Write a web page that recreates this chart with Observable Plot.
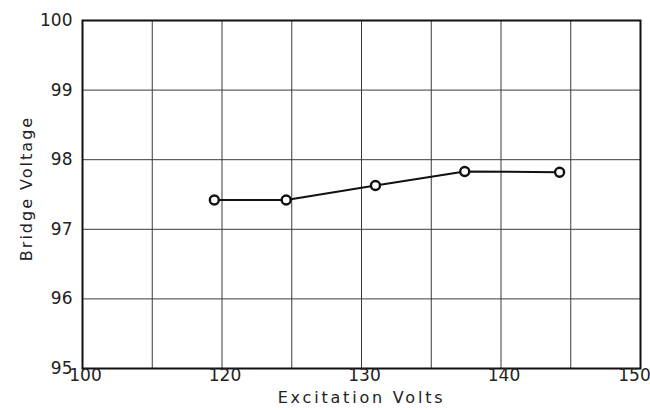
<!DOCTYPE html>
<html>
<head>
<meta charset="utf-8">
<script src="https://cdn.jsdelivr.net/npm/d3@7"></script>
<script src="https://cdn.jsdelivr.net/npm/@observablehq/plot@0.6"></script>
<style>
  html, body { margin: 0; padding: 0; background: #fff; }
  svg { display: block; }
</style>
</head>
<body>
<div id="chart"></div>
<script>
// Data
const excitationVolts = [118.9, 124.6, 131.0, 137.4, 144.2];
const bridgeVoltage   = [97.42, 97.42, 97.63, 97.83, 97.82];

// Axis ticks and grid as drawn on the original paper
const xTickLabels = [100, 120, 130, 140, 150];
const xGridValues = [100, 110, 120, 125, 130, 135, 140, 145, 150];
const yTickLabels = [95, 96, 97, 98, 99, 100];
const yGridValues = [96, 97, 98, 99];

const data = excitationVolts.map((x, i) => ({x, y: bridgeVoltage[i]}));

const W = 650, H = 410;
const mL = 82, mR = 10, mT = 20, mB = 42;
const x0 = mL, x1 = W - mR;
const step = (x1 - x0) / 8;

const lastX = xTickLabels[xTickLabels.length - 1];

const chart = Plot.plot({
  width: W,
  height: H,
  marginLeft: mL,
  marginRight: mR,
  marginTop: mT,
  marginBottom: mB,
  style: {fontFamily: "DejaVu Sans", background: "#fff", color: "#222", overflow: "visible"},
  x: {
    type: "linear",
    domain: [100, 120, 150],
    range: [x0, x0 + 2 * step, x1],
    axis: null
  },
  y: {
    domain: [95, 100],
    axis: null
  },
  marks: [
    Plot.ruleX(xGridValues, {stroke: "#3a3a3a", strokeWidth: 1}),
    Plot.ruleY(yGridValues, {stroke: "#3a3a3a", strokeWidth: 1}),
    Plot.frame({stroke: "#111", strokeWidth: 2}),
    // x tick labels
    Plot.text(xTickLabels.filter(d => d !== lastX), {x: d => d, frameAnchor: "bottom", dy: 12, dx: 3, fontSize: 17, fill: "#222", textAnchor: "middle"}),
    Plot.text([lastX], {x: d => d, frameAnchor: "bottom", dy: 12, dx: -6, fontSize: 17, fill: "#222", textAnchor: "middle"}),
    // y tick labels
    Plot.text(yTickLabels, {y: d => d, frameAnchor: "left", dx: -10, fontSize: 17, fill: "#222", textAnchor: "end"}),
    Plot.line(data, {x: "x", y: "y", stroke: "#111", strokeWidth: 2}),
    Plot.dot(data, {x: "x", y: "y", r: 4.5, stroke: "#111", strokeWidth: 2.4, fill: "#fff"}),
    Plot.text(["Excitation Volts"], {frameAnchor: "bottom", dy: 34, fontSize: 16, fill: "#222", textAnchor: "middle"}),
    Plot.text(["Bridge Voltage"], {frameAnchor: "left", dx: -56, dy: -6, rotate: -90, fontSize: 16, fill: "#222", textAnchor: "middle"})
  ]
});

// letter spacing for the axis titles
d3.select(chart).selectAll("text").each(function() {
  const t = this.textContent;
  if (t === "Excitation Volts") this.setAttribute("letter-spacing", "2.8");
  if (t === "Bridge Voltage") this.setAttribute("letter-spacing", "2");
});

document.getElementById("chart").appendChild(chart);
</script>
</body>
</html>
